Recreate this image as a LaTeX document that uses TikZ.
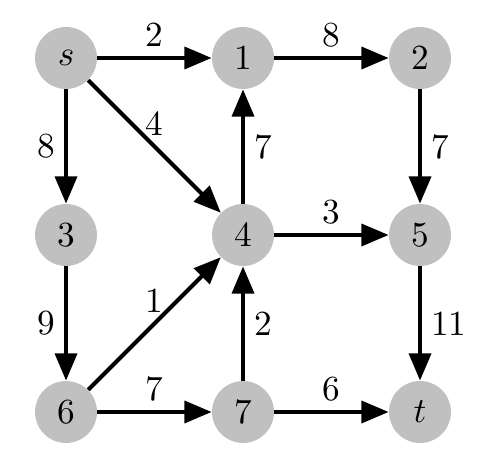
\documentclass[tikz,border=0pt]{standalone}
\usepackage{amsmath, amssymb, tikz}
\definecolor{vx}{RGB}{192,192,192}
\usetikzlibrary{arrows.meta}

\begin{document}
\begin{tikzpicture}[
	vert/.style={circle, fill=vx, minimum size=1.05cm, inner sep=0pt},
	edge/.style={line width=1.9pt, -{Triangle[length=4.6mm, width=3.7mm]}},
	wt/.style={scale=1.7, inner sep=2.2pt}
]
			\useasboundingbox (0,0) rectangle (8.339,-7.932);

			\node[vert] (s) at (1.119,-0.983) {\scalebox{1.7}{$s$}};
			\node[vert] (n1) at (4.119,-0.983) {\scalebox{1.7}{$1$}};
			\node[vert] (n2) at (7.119,-0.983) {\scalebox{1.7}{$2$}};
			\node[vert] (n3) at (1.119,-3.983) {\scalebox{1.7}{$3$}};
			\node[vert] (n4) at (4.119,-3.983) {\scalebox{1.7}{$4$}};
			\node[vert] (n5) at (7.119,-3.983) {\scalebox{1.7}{$5$}};
			\node[vert] (n6) at (1.119,-6.983) {\scalebox{1.7}{$6$}};
			\node[vert] (n7) at (4.119,-6.983) {\scalebox{1.7}{$7$}};
			\node[vert] (t) at (7.119,-6.983) {\scalebox{1.7}{$t$}};

			\draw[edge] (s) -- node[wt, above] {2} (n1);
			\draw[edge] (n1) -- node[wt, above] {8} (n2);
			\draw[edge] (s) -- node[wt, left] {8} (n3);
			\draw[edge] (s) -- node[wt, above] {4} (n4);
			\draw[edge] (n4) -- node[wt, right] {7} (n1);
			\draw[edge] (n2) -- node[wt, right] {7} (n5);
			\draw[edge] (n4) -- node[wt, above] {3} (n5);
			\draw[edge] (n3) -- node[wt, left] {9} (n6);
			\draw[edge] (n6) -- node[wt, above] {1} (n4);
			\draw[edge] (n7) -- node[wt, right] {2} (n4);
			\draw[edge] (n5) -- node[wt, right] {11} (t);
			\draw[edge] (n6) -- node[wt, above] {7} (n7);
			\draw[edge] (n7) -- node[wt, above] {6} (t);

		\end{tikzpicture}
\end{document}
